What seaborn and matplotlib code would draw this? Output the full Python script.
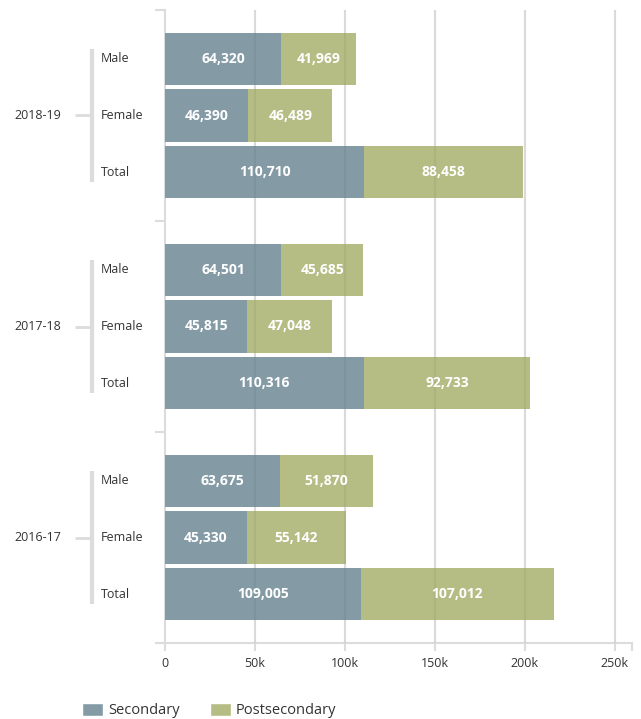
import matplotlib
matplotlib.use('Agg')
import matplotlib.pyplot as plt
import matplotlib.transforms as mtransforms
from matplotlib.patches import Patch
import numpy as np
import pandas as pd
import seaborn as sns

# ── Data ───────────────────────────────────────────────────────────────────────
years   = ['2018-19', '2017-18', '2016-17']
groups  = ['Male', 'Female', 'Total']
secondary = [64320, 46390, 110710,
             64501, 45815, 110316,
             63675, 45330, 109005]
postsecondary = [41969, 46489, 88458,
                 45685, 47048, 92733,
                 51870, 55142, 107012]
xticks  = [0, 50000, 100000, 150000, 200000, 250000]
xlabels = ['0', '50k', '100k', '150k', '200k', '250k']
XMAX = 259500

SEC_COLOR  = '#849ba6'
POST_COLOR = '#b5bd85'
GRID_COLOR = '#dcdcdc'
TEXT_COLOR = '#333333'

# ── Layout of rows (group span in row units) ───────────────────────────────────
GROUP_SPAN = 3.72
PAD = 0.86
pos = []
for g in range(len(years)):
    for i in range(len(groups)):
        pos.append(g * GROUP_SPAN + PAD + i)

df = pd.DataFrame({
    'pos': pos,
    'secondary': secondary,
    'postsecondary': postsecondary,
})
df['total'] = df['secondary'] + df['postsecondary']

sns.set_style('white')
plt.rcParams['font.family'] = ['Open Sans', 'DejaVu Sans']

fig = plt.figure(figsize=(6.41, 7.19), dpi=100)
ax = fig.add_axes([165 / 641, 1 - 643 / 719, 467 / 641, 633 / 719])

# stacked bars: total first, then secondary on top
sns.barplot(data=df, x='total', y='pos', orient='y', native_scale=True,
            color=POST_COLOR, saturation=1, width=0.92, errorbar=None,
            linewidth=0, ax=ax, zorder=2)
sns.barplot(data=df, x='secondary', y='pos', orient='y', native_scale=True,
            color=SEC_COLOR, saturation=1, width=0.92, errorbar=None,
            linewidth=0, ax=ax, zorder=3)

ymax = GROUP_SPAN * len(years)
ax.set_ylim(ymax, 0)
ax.set_xlim(0, XMAX)
ax.set_xlabel('')
ax.set_ylabel('')

# grid lines (behind) plus faint overlay showing through the bars
for xv in xticks[1:]:
    ax.axvline(xv, color='#e6e6e6', lw=1.5, zorder=1)
    ax.axvline(xv, color='black', lw=1.5, alpha=0.05, zorder=4)

# value labels
for _, r in df.iterrows():
    ax.text(r['secondary'] / 2, r['pos'], f"{int(r['secondary']):,}",
            ha='center', va='center', color='white', fontsize=10,
            fontweight='bold', zorder=5)
    ax.text(r['secondary'] + r['postsecondary'] / 2, r['pos'],
            f"{int(r['postsecondary']):,}", ha='center', va='center',
            color='white', fontsize=10, fontweight='bold', zorder=5)

# axes styling
ax.set_xticks(xticks + [XMAX])
ax.set_xticklabels(xlabels + [''], fontsize=9, color=TEXT_COLOR)
ax.set_yticks([g * GROUP_SPAN for g in range(len(years) + 1)])
ax.set_yticklabels([])
ax.tick_params(axis='y', length=7, width=1.5, color=GRID_COLOR, left=True)
ax.tick_params(axis='x', length=6, width=1.5, color=GRID_COLOR, bottom=True, pad=4)
for side in ['top', 'right']:
    ax.spines[side].set_visible(False)
for side in ['left', 'bottom']:
    ax.spines[side].set_color(GRID_COLOR)
    ax.spines[side].set_linewidth(1.5)

# category labels and group brackets
trans = mtransforms.blended_transform_factory(ax.transAxes, ax.transData)
for g, year in enumerate(years):
    rows = pos[g * 3:(g + 1) * 3]
    for i, name in enumerate(groups):
        ax.text(-0.1377, rows[i], name, transform=trans, ha='left',
                va='center', fontsize=9, color=TEXT_COLOR)
    ax.plot([-0.1563, -0.1563], [rows[0] - 0.18, rows[2] + 0.18],
            transform=trans, color=GRID_COLOR, lw=3, clip_on=False,
            solid_capstyle='butt')
    ax.plot([-0.193, -0.160], [rows[1], rows[1]], transform=trans,
            color=GRID_COLOR, lw=2, clip_on=False, solid_capstyle='butt')
    ax.text(-0.272, rows[1], year, transform=trans, ha='center',
            va='center', fontsize=9, color=TEXT_COLOR)

# legend
handles = [Patch(facecolor=SEC_COLOR, label='Secondary'),
           Patch(facecolor=POST_COLOR, label='Postsecondary')]
fig.legend(handles=handles, loc='lower left', bbox_to_anchor=(0.1076, -0.0175),
           ncol=2, frameon=False, fontsize=10.5, handlelength=1.45,
           handleheight=1.0, columnspacing=2.05, handletextpad=0.35,
           labelcolor=TEXT_COLOR)

fig.savefig('out.png', dpi=100)
